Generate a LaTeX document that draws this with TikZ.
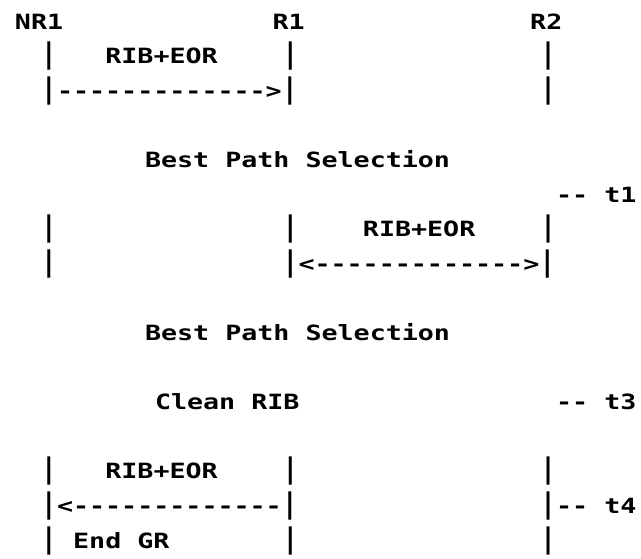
\documentclass[tikz,border=0pt]{standalone}
\usepackage{fontspec}
\usepackage{graphicx}
\newfontfamily\asc[FakeStretch=1.27]{DejaVu Sans Mono Bold}
\newcommand\vb{\scalebox{1}[1.35]{|}}
\newcommand\dd{-{}}
\begin{document}
\begin{tikzpicture}[x=1pt,y=-1pt,
  txt/.style={anchor=base west,inner sep=0pt,outer sep=0pt,font=\asc\fontsize{21}{24}\selectfont}]
\useasboundingbox (0,0) rectangle (641,558);
% column left edge: 8.75 + 16.1*c
% row 0
\node[txt] (nr1) at (15,29) {NR1};
\node[txt] (r1) at (272.6,29) {R1};
\node[txt] (r2) at (530.2,29) {R2};
% row 1
\node[txt] (a1) at (40.95,63.6) {\vb};
\node[txt] (a2) at (105.35,63.6) {RIB+EOR};
\node[txt] (a3) at (282.45,63.6) {\vb};
\node[txt] (a4) at (540.05,63.6) {\vb};
% row 2
\node[txt] (b1) at (40.95,98.2) {\vb\dd\dd\dd\dd\dd\dd\dd\dd\dd\dd\dd\dd\dd>\vb};
\node[txt] (b2) at (540.05,98.2) {\vb};
% row 4
\node[txt] (bp1) at (145,167.4) {Best Path Selection};
% row 5
\node[txt] (t1) at (556.15,202) {\dd\dd{} t1};
% row 6
\node[txt] (c1) at (40.95,236.6) {\vb};
\node[txt] (c2) at (282.45,236.6) {\vb};
\node[txt] (c3) at (362.95,236.6) {RIB+EOR};
\node[txt] (c4) at (540.05,236.6) {\vb};
% row 7
\node[txt] (d1) at (40.95,271.2) {\vb};
\node[txt] (d2) at (282.45,271.2) {\vb<\dd\dd\dd\dd\dd\dd\dd\dd\dd\dd\dd\dd\dd>\vb};
% row 9
\node[txt] (bp2) at (145,340.4) {Best Path Selection};
% row 11
\node[txt] (cr) at (155,409.6) {Clean RIB};
\node[txt] (t3) at (556.15,409.6) {\dd\dd{} t3};
% row 13
\node[txt] (e1) at (40.95,478.8) {\vb};
\node[txt] (e2) at (105.35,478.8) {RIB+EOR};
\node[txt] (e3) at (282.45,478.8) {\vb};
\node[txt] (e4) at (540.05,478.8) {\vb};
% row 14
\node[txt] (f1) at (40.95,513.4) {\vb<\dd\dd\dd\dd\dd\dd\dd\dd\dd\dd\dd\dd\dd\vb};
\node[txt] (f2) at (540.05,513.4) {\vb\dd\dd{} t4};
% row 15
\node[txt] (g1) at (40.95,548) {\vb};
\node[txt] (g2) at (73.15,548) {End GR};
\node[txt] (g3) at (282.45,548) {\vb};
\node[txt] (g4) at (540.05,548) {\vb};
\end{tikzpicture}
\end{document}
